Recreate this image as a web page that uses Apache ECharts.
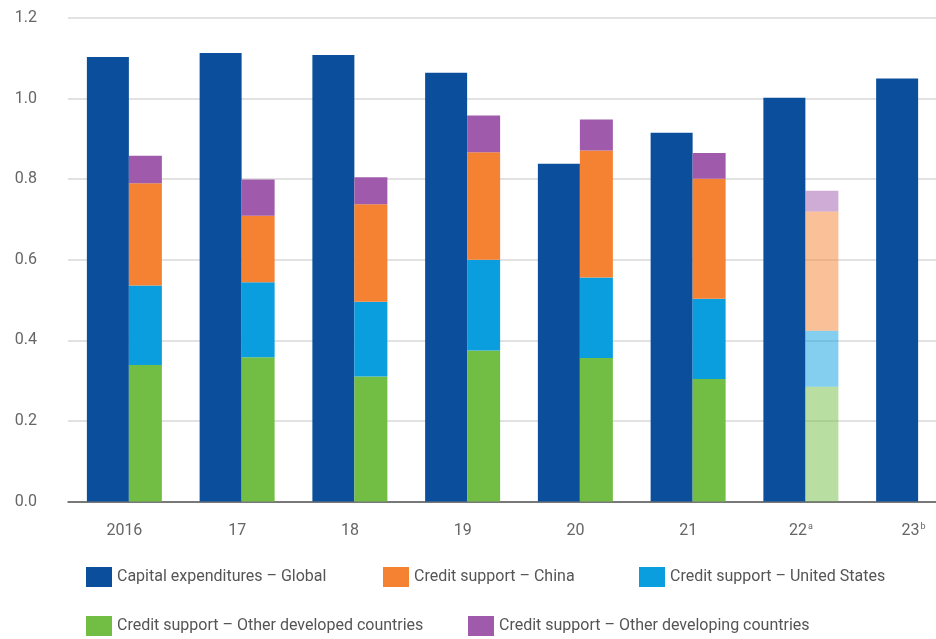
<!DOCTYPE html>
<html>
<head>
<meta charset="utf-8">
<script src="https://cdn.jsdelivr.net/npm/echarts@6/dist/echarts.min.js"></script>
<style>
  html, body { margin: 0; padding: 0; background: #fff; }
  #container { width: 936px; height: 639px; }
</style>
</head>
<body>
<div id="container"></div>
<script>
// categories and notes (superscripts under the axis)
var years = ['2016', '17', '18', '19', '20', '21', '22', '23'];
var notes = ['', '', '', '', '', '', 'a', 'b'];
// 1 = estimate, drawn faded
var estimated = [0, 0, 0, 0, 0, 0, 1, 0];

var capexGlobal = [1.103, 1.113, 1.108, 1.064, 0.838, 0.915, 1.002, 1.050];
var creditOtherDeveloped = [0.339, 0.358, 0.310, 0.375, 0.356, 0.304, 0.285, null];
var creditUS = [0.197, 0.186, 0.186, 0.225, 0.200, 0.199, 0.139, null];
var creditChina = [0.254, 0.165, 0.242, 0.267, 0.315, 0.298, 0.296, null];
var creditOtherDeveloping = [0.068, 0.090, 0.067, 0.091, 0.077, 0.064, 0.051, null];

var yTicks = [0, 0.2, 0.4, 0.6, 0.8, 1.0, 1.2];

function graficoBarras() {
    var dom = document.getElementById('container');
    var myChart = echarts.init(dom);
    var fuente = 'Roboto, "Noto Sans", sans-serif';

    function fade(arr) {
        return arr.map(function (v, i) {
            if (estimated[i]) {
                return { value: v, itemStyle: { opacity: 0.5 } };
            }
            return v;
        });
    }

    function stackSerie(name, color, data) {
        return {
            name: name,
            type: 'bar',
            stack: 'credit',
            barWidth: 33,
            barGap: '0%',
            itemStyle: { color: color },
            data: fade(data)
        };
    }

    function legendItem(name, left, top) {
        return {
            data: [name],
            left: left,
            top: top,
            padding: 0,
            icon: 'rect',
            itemWidth: 26,
            itemHeight: 20,
            selectedMode: false,
            textStyle: { color: '#555', fontSize: 16, fontFamily: fuente }
        };
    }

    var option = {
        animation: false,
        textStyle: { fontFamily: fuente },
        legend: [
            legendItem('Capital expenditures \u2013 Global', 86, 567),
            legendItem('Credit support \u2013 China', 383, 567),
            legendItem('Credit support \u2013 United States', 639, 567),
            legendItem('Credit support \u2013 Other developed countries', 86, 616),
            legendItem('Credit support \u2013 Other developing countries', 468, 616)
        ],
        grid: { left: 68, top: 18, width: 902, height: 483.5, outerBoundsMode: 'none' },
        xAxis: {
            type: 'category',
            data: years,
            axisTick: { show: false },
            axisLine: { lineStyle: { color: '#555', width: 1.5 } },
            axisLabel: {
                color: '#666',
                fontSize: 16,
                margin: 21,
                formatter: function (v, i) {
                    return notes[i] ? v + '{sup|' + notes[i] + '}' : v;
                },
                rich: {
                    sup: { fontSize: 9, color: '#666', verticalAlign: 'top', padding: [0, 0, 6, 1] }
                }
            }
        },
        yAxis: {
            type: 'value',
            min: yTicks[0],
            max: yTicks[yTicks.length - 1],
            interval: 0.2,
            axisLine: { show: false },
            axisTick: { show: false },
            axisLabel: {
                color: '#666',
                fontSize: 16,
                margin: 31,
                formatter: function (v) { return v.toFixed(1); }
            },
            splitLine: { lineStyle: { color: '#d9d9d9', width: 1.5 } }
        },
        series: [
            {
                name: 'Capital expenditures \u2013 Global',
                type: 'bar',
                barWidth: 42,
                barGap: '0%',
                itemStyle: { color: '#0b4f9c' },
                data: capexGlobal
            },
            stackSerie('Credit support \u2013 Other developed countries', '#72be44', creditOtherDeveloped),
            stackSerie('Credit support \u2013 United States', '#0a9edf', creditUS),
            stackSerie('Credit support \u2013 China', '#f58232', creditChina),
            stackSerie('Credit support \u2013 Other developing countries', '#a05aab', creditOtherDeveloping)
        ]
    };

    if (option && typeof option === 'object') {
        myChart.setOption(option);
    }
}
graficoBarras();
</script>
</body>
</html>
